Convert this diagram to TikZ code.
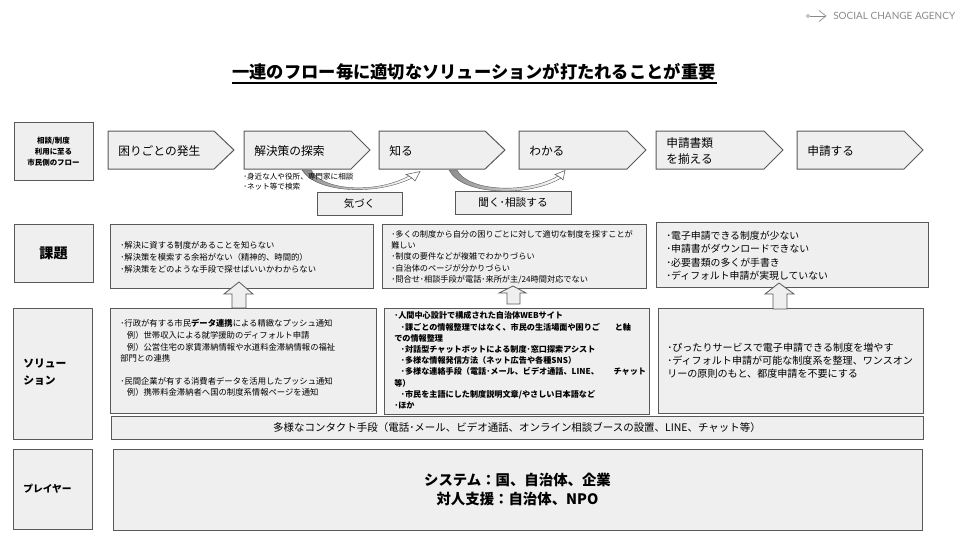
\documentclass[tikz,border=0pt]{standalone}
\usepackage{fontspec}
\setmainfont{Noto Sans CJK JP}
\newfontfamily\logofont{Lato}
\definecolor{boxfill}{HTML}{EFEFEF}
\definecolor{boxline}{HTML}{595959}
\definecolor{logogray}{HTML}{8A8A8A}
\tikzset{
  panel/.style={draw=boxline,fill=boxfill,line width=.75pt},
  copytext/.style={inner sep=0pt,align=left,anchor=north west,text=black},
  flowtext/.style={copytext,anchor=west,font=\fontsize{8.8pt}{12.6pt}\selectfont},
  smalltext/.style={copytext,font=\fontsize{6.25pt}{8.7pt}\selectfont},
  midtext/.style={copytext,font=\fontsize{7.4pt}{9.9pt}\selectfont},
  sidetext/.style={inner sep=0pt,align=center,text=black},
  blockarrow/.style={draw=boxline,fill=boxfill,line width=.6pt},
  curveband/.style={draw=boxline,line width=.3pt,left color=gray!90,right color=white},
  curvehead/.style={draw=boxline,line width=.4pt,fill=white},
}
\newcommand{\flowbox}[5]{%
  \draw[panel] (#2,131) -- (#3,131) -- (#4,150) -- (#3,169) -- (#2,169) -- cycle;
  \node[flowtext] (#1) at (#2+10,151) {#5};
}
\newcommand{\uparrowblock}[8]{%
  \draw[blockarrow] (#1,#2) -- (#4,#3) -- (#6,#3) -- (#6,#8) -- (#7,#8) -- (#7,#3) -- (#5,#3) -- cycle;
}
\begin{document}
\begin{tikzpicture}[x=.75pt,y=-.75pt]
\useasboundingbox (0,0) rectangle (960,540);
% logo
\draw[logogray,line width=.5pt] (808,16) circle (1.5);
\draw[logogray,line width=.5pt] (809.5,16) -- (825,16);
\draw[logogray,line width=.5pt] (819,10.5) -- (826,16) -- (819,21.5);
\node[inner sep=0pt,anchor=west,text=logogray,font=\logofont\fontsize{7.5pt}{9pt}\selectfont] (logo) at (833,16) {SOCIAL CHANGE AGENCY};
% title
\node[inner sep=0pt,font=\bfseries\fontsize{12.95pt}{16pt}\selectfont] (title) at (474,72) {一連のフロー毎に適切なソリューションが打たれることが重要};
\draw[black,line width=.8pt] (232,83) -- (717,83);
% row 1
\draw[panel] (14,122) rectangle (93,180);
\node[sidetext,font=\bfseries\fontsize{5.6pt}{8pt}\selectfont] (flowlabel) at (53.5,151.5) {相談/制度\\利用に至る\\市民側のフロー};
\flowbox{f1}{108}{214}{234}{困りごとの発生}
\flowbox{f2}{244}{351}{370}{解決策の探索}
\flowbox{f3}{379}{485}{505}{知る}
\flowbox{f4}{519}{627}{646}{わかる}
\flowbox{f5}{656}{764}{783}{申請書類\\を揃える}
\flowbox{f6}{797}{904}{923}{申請する}
% curved arrows
\path[curveband] (302,170) -- (311,170) .. controls (322,191) and (376,194) .. (409,176) -- (412,178) .. controls (376,196) and (316,193) .. (302,170) -- cycle;
\path[curvehead] (412,178) -- (409,176) -- (406,174.5) -- (420,171.5) -- (415,181) -- cycle;
\path[curveband] (449,170) -- (457,170) .. controls (468,192) and (528,194) .. (558,176) -- (561,178) .. controls (530,197) and (462,196) .. (449,170) -- cycle;
\path[curvehead] (561,178) -- (558,176) -- (555,174.5) -- (565,170.5) -- (563,180) -- cycle;
\node[smalltext,font=\fontsize{5.7pt}{7.8pt}\selectfont] (seek) at (243,172.5) {･身近な人や役所、専門家に相談\\･ネット等で検索};
\node[panel,minimum width=85*.75pt,minimum height=23*.75pt,inner sep=0pt,font=\fontsize{7.8pt}{9pt}\selectfont] (notice) at (359.5,203.5) {気づく};
\node[panel,minimum width=116*.75pt,minimum height=23*.75pt,inner sep=0pt,font=\fontsize{8pt}{9pt}\selectfont] (ask) at (513,202.5) {聞く･相談する};
% row 2
\draw[panel] (14,224) rectangle (93,282);
\node[sidetext,font=\bfseries\fontsize{10.6pt}{13pt}\selectfont] (issuelabel) at (53.5,253) {課題};
\draw[panel] (110,224) rectangle (373,288);
\node[smalltext] (i1) at (120,241.5) {･解決に資する制度があることを知らない\\･解決策を模索する余裕がない（精神的、時間的）\\･解決策をどのような手段で探せばいいかわからない};
\draw[panel] (382,224) rectangle (646,288);
\node[smalltext,font=\fontsize{6.15pt}{8.35pt}\selectfont] (i2) at (391,230.5) {･多くの制度から自分の困りごとに対して適切な制度を探すことが\\難しい\\･制度の要件などが複雑でわかりづらい\\･自治体のページが分かりづらい\\･問合せ･相談手段が電話･来所が主/24時間対応でない};
\draw[panel] (656,222) rectangle (928,287);
\node[midtext,font=\fontsize{7.4pt}{10pt}\selectfont] (i3) at (666,231) {･電子申請できる制度が少ない\\･申請書がダウンロードできない\\･必要書類の多くが手書き\\･ディフォルト申請が実現していない};
% row 3
\draw[panel] (13,308) rectangle (92,439);
\node[copytext,font=\bfseries\fontsize{8.1pt}{12.8pt}\selectfont] (sollabel) at (23,359) {ソリュー\\ション};
\draw[panel] (110,308) rectangle (376,413);
\node[smalltext,font=\fontsize{6.25pt}{8.8pt}\selectfont] (s1) at (120,319) {･行政が有する市民{\bfseries データ連携}による精緻なプッシュ通知\\\hspace*{5pt}例）世帯収入による就学援助のディフォルト申請\\\hspace*{5pt}例）公営住宅の家賃滞納情報や水道料金滞納情報の福祉\\部門との連携\\[8pt]･民間企業が有する消費者データを活用したプッシュ通知\\\hspace*{5pt}例）携帯料金滞納者へ国の制度系情報ページを通知};
\draw[panel] (384,308) rectangle (649,414);
\node[smalltext,font=\bfseries\fontsize{6.1pt}{8.4pt}\selectfont] (s2) at (394,311.5) {･人間中心設計で構成された自治体WEBサイト\\\hspace*{5pt}･課ごとの情報整理ではなく、市民の生活場面や困りご\hspace{11pt}と軸\\での情報整理\\\hspace*{5pt}･対話型チャットボットによる制度･窓口探索アシスト\\\hspace*{5pt}･多様な情報発信方法（ネット広告や各種SNS）\\\hspace*{5pt}･多様な連絡手段（電話･メール、ビデオ通話、LINE、\hspace{11pt}チャット\\等）\\\hspace*{5pt}･市民を主語にした制度説明文章/やさしい日本語など\\･ほか};
\draw[panel] (658,308) rectangle (923,413);
\node[copytext,font=\fontsize{7.55pt}{9.75pt}\selectfont] (s3) at (667,343) {･ぴったりサービスで電子申請できる制度を増やす\\･ディフォルト申請が可能な制度系を整理、ワンスオン\\リーの原則のもと、都度申請を不要にする};
\node[panel,minimum width=812*.75pt,minimum height=23*.75pt,inner sep=0pt,font=\fontsize{7.85pt}{9pt}\selectfont] (contact) at (517,427.5) {多様なコンタクト手段（電話･メール、ビデオ通話、オンライン相談ブースの設置、LINE、チャット等）};
% up arrows
\uparrowblock{239}{282}{294}{224}{253}{232}{246}{308}
\uparrowblock{513}{286}{293}{499}{526}{507}{520}{304}
\uparrowblock{779}{283}{294}{765}{794}{773}{787}{309}
% row 4
\draw[panel] (13,449) rectangle (92,529);
\node[sidetext,font=\bfseries\fontsize{7.3pt}{9pt}\selectfont] (playerlabel) at (47.5,489) {プレイヤー};
\node[panel,minimum width=809*.75pt,minimum height=81*.75pt,inner sep=0pt,align=center,font=\bfseries\fontsize{10.8pt}{14.3pt}\selectfont] (players) at (517.5,489.5) {システム：国、自治体、企業\\対人支援：自治体、NPO};
\end{tikzpicture}
\end{document}
